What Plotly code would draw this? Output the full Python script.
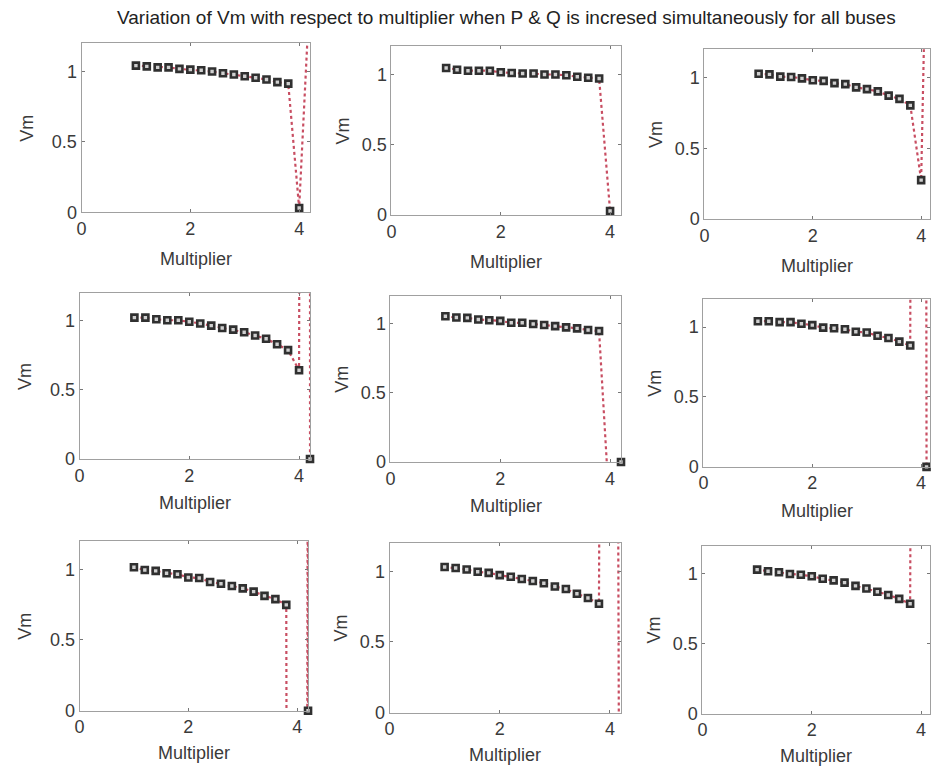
import plotly.graph_objects as go

# ---------------- data ----------------
title_text = "Variation of Vm with respect to multiplier when P & Q is incresed simultaneously for all buses"
x_label = "Multiplier"
y_label = "Vm"

base_mult = [1.0, 1.2, 1.4, 1.6, 1.8, 2.0, 2.2, 2.4, 2.6, 2.8, 3.0, 3.2, 3.4, 3.6, 3.8]

vm_1 = [1.042, 1.037, 1.030, 1.030, 1.019, 1.014, 1.009, 1.000, 0.988, 0.979, 0.967, 0.956, 0.944, 0.925, 0.914]
tail_x_1 = [4.0, 4.2]
tail_v_1 = [0.03, 1.6]

vm_2 = [1.046, 1.034, 1.027, 1.027, 1.027, 1.016, 1.011, 1.007, 1.007, 1.000, 1.000, 0.995, 0.984, 0.977, 0.972]
tail_x_2 = [4.0]
tail_v_2 = [0.03]

vm_3 = [1.028, 1.023, 1.007, 1.005, 0.995, 0.982, 0.977, 0.961, 0.954, 0.931, 0.919, 0.903, 0.873, 0.850, 0.804]
tail_x_3 = [4.0, 4.2]
tail_v_3 = [0.276, 4.0]

vm_4 = [1.023, 1.023, 1.011, 1.004, 1.004, 0.993, 0.981, 0.965, 0.948, 0.936, 0.917, 0.894, 0.870, 0.830, 0.788]
tail_x_4 = [4.0, 4.2, 4.2]
tail_v_4 = [0.642, 30.0, 0.0]

vm_5 = [1.054, 1.045, 1.043, 1.031, 1.026, 1.021, 1.007, 1.007, 0.998, 0.991, 0.983, 0.974, 0.967, 0.955, 0.948]
tail_x_5 = [4.0, 4.2]
tail_v_5 = [-0.4, 0.0]

vm_6 = [1.042, 1.042, 1.035, 1.035, 1.024, 1.014, 0.996, 0.991, 0.984, 0.966, 0.961, 0.938, 0.922, 0.896, 0.868]
tail_x_6 = [4.0, 4.1]
tail_v_6 = [30.0, 0.0]

vm_7 = [1.014, 0.995, 0.988, 0.972, 0.965, 0.942, 0.938, 0.910, 0.897, 0.881, 0.865, 0.842, 0.812, 0.789, 0.748]
tail_x_7 = [4.0, 4.2, 4.2]
tail_v_7 = [-40.0, 3.0, 0.0]

vm_8 = [1.030, 1.023, 1.012, 0.996, 0.988, 0.972, 0.961, 0.945, 0.931, 0.915, 0.892, 0.874, 0.841, 0.811, 0.770]
tail_x_8 = [4.0, 4.2]
tail_v_8 = [20.0, -5.0]

vm_9 = [1.030, 1.018, 1.011, 0.999, 0.993, 0.983, 0.965, 0.953, 0.937, 0.914, 0.895, 0.872, 0.849, 0.821, 0.786]
tail_x_9 = [4.0]
tail_v_9 = [20.0]

x_tick_vals = [0, 2, 4]
x_tick_text = ["0", "2", "4"]
y_tick_vals = [0, 0.5, 1]
y_tick_text = ["0", "0.5", "1"]

series = [
    (vm_1, tail_x_1, tail_v_1), (vm_2, tail_x_2, tail_v_2), (vm_3, tail_x_3, tail_v_3),
    (vm_4, tail_x_4, tail_v_4), (vm_5, tail_x_5, tail_v_5), (vm_6, tail_x_6, tail_v_6),
    (vm_7, tail_x_7, tail_v_7), (vm_8, tail_x_8, tail_v_8), (vm_9, tail_x_9, tail_v_9),
]

# ---------------- layout (pixels) ----------------
W, H = 931, 775
X_MAX, Y_MAX = 4.2, 1.2
# (left, right, top, bottom) of each axes box in pixels
boxes = [
    (77, 307, 44, 215), (389, 620, 47, 218), (704, 933, 50, 222),
    (75, 307, 297, 465), (388, 620, 300, 468), (703, 933, 303, 473),
    (75, 305, 548, 720), (387, 620, 550, 722), (702, 933, 553, 723),
]
xlabel_off = [47, 45, 43]
ylabel_off = [55, 49, 49]

FONT = "Liberation Sans, Arial, sans-serif"
RED = "#c84e62"
DARK = "#303030"
FRAME = "#a0a0a0"
TXT = "#3a3a3a"

fig = go.Figure()
annotations = []
layout_axes = {}

for i, (vm, tx, tv) in enumerate(series):
    n = i + 1
    sfx = "" if n == 1 else str(n)
    left, right, top, bottom = boxes[i]
    xmax = X_MAX
    if right > W:
        xmax = X_MAX * (W - left) / (right - left)
        right = W
    xs = base_mult + tx
    vs = vm + tv

    fig.add_trace(go.Scatter(
        x=xs, y=vs, mode="lines",
        line=dict(color=RED, width=2.2, dash="dot"),
        xaxis="x" + sfx, yaxis="y" + sfx, showlegend=False, hoverinfo="skip",
    ))
    mx = [x for x, v in zip(xs, vs) if 0 <= x <= xmax + 1e-9 and 0 <= v <= Y_MAX]
    my = [v for x, v in zip(xs, vs) if 0 <= x <= xmax + 1e-9 and 0 <= v <= Y_MAX]
    fig.add_trace(go.Scatter(
        x=mx, y=my, mode="markers",
        marker=dict(symbol="square", size=6, color="#d0d0d0",
                    line=dict(color=DARK, width=2.6)),
        cliponaxis=False,
        xaxis="x" + sfx, yaxis="y" + sfx, showlegend=False,
    ))

    axis_common = dict(
        showline=True, linecolor=FRAME, linewidth=1, mirror="ticks",
        ticks="inside", ticklen=3, tickcolor="#777", showgrid=False,
        zeroline=False, tickfont=dict(family=FONT, size=18, color=TXT),
    )
    layout_axes["xaxis" + sfx] = dict(
        axis_common, domain=[left / W, right / W], range=[0, xmax],
        tickvals=x_tick_vals, ticktext=x_tick_text, anchor="y" + sfx,
    )
    layout_axes["yaxis" + sfx] = dict(
        axis_common, domain=[1 - bottom / H, 1 - top / H], range=[0, Y_MAX],
        tickvals=y_tick_vals, ticktext=y_tick_text, anchor="x" + sfx,
    )

    col = i % 3
    annotations.append(dict(
        text=x_label, xref="paper", yref="paper",
        x=((left + min(boxes[i][1], W)) / 2) / W, y=1 - (bottom + xlabel_off[i // 3]) / H,
        xanchor="center", yanchor="middle", showarrow=False,
        font=dict(family=FONT, size=18, color=TXT),
    ))
    annotations.append(dict(
        text=y_label, xref="paper", yref="paper",
        x=(left - ylabel_off[col]) / W, y=1 - ((top + bottom) / 2) / H,
        xanchor="center", yanchor="middle", textangle=-90, showarrow=False,
        font=dict(family=FONT, size=18, color=TXT),
    ))

annotations.append(dict(
    text=title_text, xref="paper", yref="paper",
    x=505 / W, y=1 - 18 / H, xanchor="center", yanchor="middle", showarrow=False,
    font=dict(family=FONT, size=19, color="#222222"),
))

fig.update_layout(
    width=W, height=H, autosize=False,
    margin=dict(l=0, r=0, t=0, b=0),
    paper_bgcolor="white", plot_bgcolor="white",
    annotations=annotations,
    **layout_axes,
)

fig.write_html("out.html")
